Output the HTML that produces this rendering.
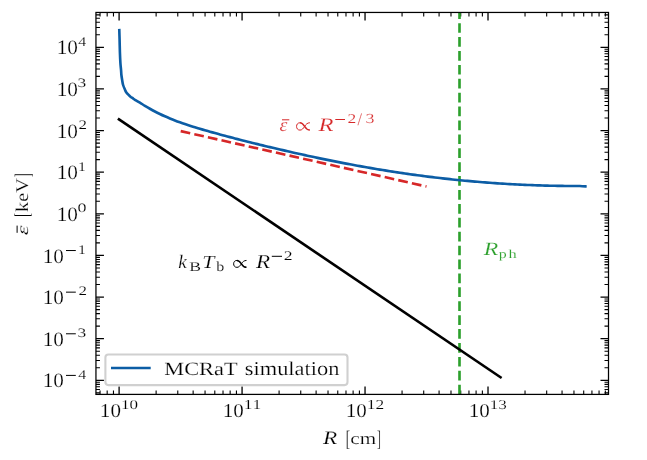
<!DOCTYPE html>
<html><head><meta charset="utf-8"><title>Mean photon energy vs radius</title><style>
html,body{margin:0;padding:0;background:#fff;overflow:hidden;}
svg{display:block;}
text{font-family:"Liberation Serif",serif;font-size:20.0px;font-kerning:none;text-rendering:geometricPrecision;stroke:#fff;stroke-width:0.2px;}
.t{will-change:transform;}
</style></head><body>
<svg class="t" width="647" height="460" viewBox="0 0 647 460">
<rect width="647" height="460" fill="#fff"/>
<g stroke="#000" fill="none">
<path d="M95.95 392.83h4.0M608.50 392.83h-4.0" stroke-width="1.1"/><path d="M95.95 389.53h4.0M608.50 389.53h-4.0" stroke-width="1.1"/><path d="M95.95 386.75h4.0M608.50 386.75h-4.0" stroke-width="1.1"/><path d="M95.95 384.33h4.0M608.50 384.33h-4.0" stroke-width="1.1"/><path d="M95.95 382.20h4.0M608.50 382.20h-4.0" stroke-width="1.1"/><path d="M95.95 380.30h8.0M608.50 380.30h-8.0" stroke-width="1.3"/><path d="M95.95 367.77h4.0M608.50 367.77h-4.0" stroke-width="1.1"/><path d="M95.95 360.44h4.0M608.50 360.44h-4.0" stroke-width="1.1"/><path d="M95.95 355.24h4.0M608.50 355.24h-4.0" stroke-width="1.1"/><path d="M95.95 351.21h4.0M608.50 351.21h-4.0" stroke-width="1.1"/><path d="M95.95 347.91h4.0M608.50 347.91h-4.0" stroke-width="1.1"/><path d="M95.95 345.12h4.0M608.50 345.12h-4.0" stroke-width="1.1"/><path d="M95.95 342.71h4.0M608.50 342.71h-4.0" stroke-width="1.1"/><path d="M95.95 340.58h4.0M608.50 340.58h-4.0" stroke-width="1.1"/><path d="M95.95 338.68h8.0M608.50 338.68h-8.0" stroke-width="1.3"/><path d="M95.95 326.14h4.0M608.50 326.14h-4.0" stroke-width="1.1"/><path d="M95.95 318.81h4.0M608.50 318.81h-4.0" stroke-width="1.1"/><path d="M95.95 313.61h4.0M608.50 313.61h-4.0" stroke-width="1.1"/><path d="M95.95 309.58h4.0M608.50 309.58h-4.0" stroke-width="1.1"/><path d="M95.95 306.28h4.0M608.50 306.28h-4.0" stroke-width="1.1"/><path d="M95.95 303.50h4.0M608.50 303.50h-4.0" stroke-width="1.1"/><path d="M95.95 301.08h4.0M608.50 301.08h-4.0" stroke-width="1.1"/><path d="M95.95 298.95h4.0M608.50 298.95h-4.0" stroke-width="1.1"/><path d="M95.95 297.05h8.0M608.50 297.05h-8.0" stroke-width="1.3"/><path d="M95.95 284.52h4.0M608.50 284.52h-4.0" stroke-width="1.1"/><path d="M95.95 277.19h4.0M608.50 277.19h-4.0" stroke-width="1.1"/><path d="M95.95 271.99h4.0M608.50 271.99h-4.0" stroke-width="1.1"/><path d="M95.95 267.96h4.0M608.50 267.96h-4.0" stroke-width="1.1"/><path d="M95.95 264.66h4.0M608.50 264.66h-4.0" stroke-width="1.1"/><path d="M95.95 261.87h4.0M608.50 261.87h-4.0" stroke-width="1.1"/><path d="M95.95 259.46h4.0M608.50 259.46h-4.0" stroke-width="1.1"/><path d="M95.95 257.33h4.0M608.50 257.33h-4.0" stroke-width="1.1"/><path d="M95.95 255.43h8.0M608.50 255.43h-8.0" stroke-width="1.3"/><path d="M95.95 242.89h4.0M608.50 242.89h-4.0" stroke-width="1.1"/><path d="M95.95 235.56h4.0M608.50 235.56h-4.0" stroke-width="1.1"/><path d="M95.95 230.36h4.0M608.50 230.36h-4.0" stroke-width="1.1"/><path d="M95.95 226.33h4.0M608.50 226.33h-4.0" stroke-width="1.1"/><path d="M95.95 223.03h4.0M608.50 223.03h-4.0" stroke-width="1.1"/><path d="M95.95 220.25h4.0M608.50 220.25h-4.0" stroke-width="1.1"/><path d="M95.95 217.83h4.0M608.50 217.83h-4.0" stroke-width="1.1"/><path d="M95.95 215.70h4.0M608.50 215.70h-4.0" stroke-width="1.1"/><path d="M95.95 213.80h8.0M608.50 213.80h-8.0" stroke-width="1.3"/><path d="M95.95 201.27h4.0M608.50 201.27h-4.0" stroke-width="1.1"/><path d="M95.95 193.94h4.0M608.50 193.94h-4.0" stroke-width="1.1"/><path d="M95.95 188.74h4.0M608.50 188.74h-4.0" stroke-width="1.1"/><path d="M95.95 184.71h4.0M608.50 184.71h-4.0" stroke-width="1.1"/><path d="M95.95 181.41h4.0M608.50 181.41h-4.0" stroke-width="1.1"/><path d="M95.95 178.62h4.0M608.50 178.62h-4.0" stroke-width="1.1"/><path d="M95.95 176.21h4.0M608.50 176.21h-4.0" stroke-width="1.1"/><path d="M95.95 174.08h4.0M608.50 174.08h-4.0" stroke-width="1.1"/><path d="M95.95 172.18h8.0M608.50 172.18h-8.0" stroke-width="1.3"/><path d="M95.95 159.64h4.0M608.50 159.64h-4.0" stroke-width="1.1"/><path d="M95.95 152.31h4.0M608.50 152.31h-4.0" stroke-width="1.1"/><path d="M95.95 147.11h4.0M608.50 147.11h-4.0" stroke-width="1.1"/><path d="M95.95 143.08h4.0M608.50 143.08h-4.0" stroke-width="1.1"/><path d="M95.95 139.78h4.0M608.50 139.78h-4.0" stroke-width="1.1"/><path d="M95.95 137.00h4.0M608.50 137.00h-4.0" stroke-width="1.1"/><path d="M95.95 134.58h4.0M608.50 134.58h-4.0" stroke-width="1.1"/><path d="M95.95 132.45h4.0M608.50 132.45h-4.0" stroke-width="1.1"/><path d="M95.95 130.55h8.0M608.50 130.55h-8.0" stroke-width="1.3"/><path d="M95.95 118.02h4.0M608.50 118.02h-4.0" stroke-width="1.1"/><path d="M95.95 110.69h4.0M608.50 110.69h-4.0" stroke-width="1.1"/><path d="M95.95 105.49h4.0M608.50 105.49h-4.0" stroke-width="1.1"/><path d="M95.95 101.46h4.0M608.50 101.46h-4.0" stroke-width="1.1"/><path d="M95.95 98.16h4.0M608.50 98.16h-4.0" stroke-width="1.1"/><path d="M95.95 95.37h4.0M608.50 95.37h-4.0" stroke-width="1.1"/><path d="M95.95 92.96h4.0M608.50 92.96h-4.0" stroke-width="1.1"/><path d="M95.95 90.83h4.0M608.50 90.83h-4.0" stroke-width="1.1"/><path d="M95.95 88.92h8.0M608.50 88.92h-8.0" stroke-width="1.3"/><path d="M95.95 76.39h4.0M608.50 76.39h-4.0" stroke-width="1.1"/><path d="M95.95 69.06h4.0M608.50 69.06h-4.0" stroke-width="1.1"/><path d="M95.95 63.86h4.0M608.50 63.86h-4.0" stroke-width="1.1"/><path d="M95.95 59.83h4.0M608.50 59.83h-4.0" stroke-width="1.1"/><path d="M95.95 56.53h4.0M608.50 56.53h-4.0" stroke-width="1.1"/><path d="M95.95 53.75h4.0M608.50 53.75h-4.0" stroke-width="1.1"/><path d="M95.95 51.33h4.0M608.50 51.33h-4.0" stroke-width="1.1"/><path d="M95.95 49.20h4.0M608.50 49.20h-4.0" stroke-width="1.1"/><path d="M95.95 47.30h8.0M608.50 47.30h-8.0" stroke-width="1.3"/><path d="M95.95 34.77h4.0M608.50 34.77h-4.0" stroke-width="1.1"/><path d="M95.95 27.44h4.0M608.50 27.44h-4.0" stroke-width="1.1"/><path d="M95.95 22.24h4.0M608.50 22.24h-4.0" stroke-width="1.1"/><path d="M95.95 18.21h4.0M608.50 18.21h-4.0" stroke-width="1.1"/><path d="M95.95 14.91h4.0M608.50 14.91h-4.0" stroke-width="1.1"/><path d="M100.05 394.40v-4.0M100.05 12.45v4.0" stroke-width="1.1"/><path d="M107.18 394.40v-4.0M107.18 12.45v4.0" stroke-width="1.1"/><path d="M113.47 394.40v-4.0M113.47 12.45v4.0" stroke-width="1.1"/><path d="M119.10 394.40v-8.0M119.10 12.45v8.0" stroke-width="1.3"/><path d="M156.12 394.40v-4.0M156.12 12.45v4.0" stroke-width="1.1"/><path d="M177.77 394.40v-4.0M177.77 12.45v4.0" stroke-width="1.1"/><path d="M193.14 394.40v-4.0M193.14 12.45v4.0" stroke-width="1.1"/><path d="M205.05 394.40v-4.0M205.05 12.45v4.0" stroke-width="1.1"/><path d="M214.79 394.40v-4.0M214.79 12.45v4.0" stroke-width="1.1"/><path d="M223.02 394.40v-4.0M223.02 12.45v4.0" stroke-width="1.1"/><path d="M230.15 394.40v-4.0M230.15 12.45v4.0" stroke-width="1.1"/><path d="M236.44 394.40v-4.0M236.44 12.45v4.0" stroke-width="1.1"/><path d="M242.07 394.40v-8.0M242.07 12.45v8.0" stroke-width="1.3"/><path d="M279.09 394.40v-4.0M279.09 12.45v4.0" stroke-width="1.1"/><path d="M300.74 394.40v-4.0M300.74 12.45v4.0" stroke-width="1.1"/><path d="M316.11 394.40v-4.0M316.11 12.45v4.0" stroke-width="1.1"/><path d="M328.02 394.40v-4.0M328.02 12.45v4.0" stroke-width="1.1"/><path d="M337.76 394.40v-4.0M337.76 12.45v4.0" stroke-width="1.1"/><path d="M345.99 394.40v-4.0M345.99 12.45v4.0" stroke-width="1.1"/><path d="M353.12 394.40v-4.0M353.12 12.45v4.0" stroke-width="1.1"/><path d="M359.41 394.40v-4.0M359.41 12.45v4.0" stroke-width="1.1"/><path d="M365.04 394.40v-8.0M365.04 12.45v8.0" stroke-width="1.3"/><path d="M402.06 394.40v-4.0M402.06 12.45v4.0" stroke-width="1.1"/><path d="M423.71 394.40v-4.0M423.71 12.45v4.0" stroke-width="1.1"/><path d="M439.08 394.40v-4.0M439.08 12.45v4.0" stroke-width="1.1"/><path d="M450.99 394.40v-4.0M450.99 12.45v4.0" stroke-width="1.1"/><path d="M460.73 394.40v-4.0M460.73 12.45v4.0" stroke-width="1.1"/><path d="M468.96 394.40v-4.0M468.96 12.45v4.0" stroke-width="1.1"/><path d="M476.09 394.40v-4.0M476.09 12.45v4.0" stroke-width="1.1"/><path d="M482.38 394.40v-4.0M482.38 12.45v4.0" stroke-width="1.1"/><path d="M488.01 394.40v-8.0M488.01 12.45v8.0" stroke-width="1.3"/><path d="M525.03 394.40v-4.0M525.03 12.45v4.0" stroke-width="1.1"/><path d="M546.68 394.40v-4.0M546.68 12.45v4.0" stroke-width="1.1"/><path d="M562.05 394.40v-4.0M562.05 12.45v4.0" stroke-width="1.1"/><path d="M573.96 394.40v-4.0M573.96 12.45v4.0" stroke-width="1.1"/><path d="M583.70 394.40v-4.0M583.70 12.45v4.0" stroke-width="1.1"/><path d="M591.93 394.40v-4.0M591.93 12.45v4.0" stroke-width="1.1"/><path d="M599.06 394.40v-4.0M599.06 12.45v4.0" stroke-width="1.1"/><path d="M605.35 394.40v-4.0M605.35 12.45v4.0" stroke-width="1.1"/>
</g>
<g fill="none" stroke-linecap="butt" stroke-linejoin="round">
<path d="M459.5 394.4V12.45" stroke="#2ca02c" stroke-width="2.63" stroke-dasharray="9.707 4.198"/>
<path d="M117.9 118.7L501.6 378.0" stroke="#000" stroke-width="2.63"/>
<path d="M180.7 131.1L426.5 186.5" stroke="#d62728" stroke-width="2.63" stroke-dasharray="9.73 4.21"/>
<path d="M119.26 28.90C119.32 30.75 119.49 36.15 119.60 40.00C119.71 43.85 119.77 48.17 119.90 52.00C120.03 55.83 120.21 60.00 120.40 63.00C120.59 66.00 120.88 68.00 121.05 70.00C121.22 72.00 121.22 73.33 121.40 75.00C121.58 76.67 121.87 78.33 122.15 80.00C122.43 81.67 122.61 83.33 123.10 85.00C123.59 86.67 124.58 88.80 125.10 90.00C125.62 91.20 125.66 91.42 126.20 92.20C126.74 92.98 127.63 93.95 128.35 94.70C129.07 95.45 129.78 96.12 130.50 96.70C131.22 97.28 131.97 97.69 132.70 98.20C133.43 98.71 133.70 99.01 134.90 99.76C136.10 100.51 138.23 101.70 139.90 102.70C141.57 103.71 143.23 104.78 144.90 105.79C146.57 106.79 148.23 107.79 149.90 108.74C151.57 109.69 153.23 110.61 154.90 111.49C156.57 112.37 158.23 113.20 159.90 114.01C161.57 114.82 163.23 115.58 164.90 116.32C166.57 117.06 168.23 117.77 169.90 118.46C171.57 119.14 173.23 119.80 174.90 120.43C176.57 121.07 178.23 121.68 179.90 122.28C181.57 122.88 183.23 123.46 184.90 124.02C186.57 124.59 188.23 125.14 189.90 125.68C191.57 126.22 193.23 126.74 194.90 127.26C196.57 127.78 198.23 128.28 199.90 128.78C201.57 129.28 203.23 129.77 204.90 130.26C206.57 130.74 208.23 131.22 209.90 131.69C211.57 132.16 213.23 132.62 214.90 133.09C216.57 133.55 218.23 134.00 219.90 134.45C221.57 134.91 223.23 135.35 224.90 135.80C226.57 136.24 228.23 136.68 229.90 137.12C231.57 137.56 233.23 137.99 234.90 138.42C236.57 138.86 238.23 139.28 239.90 139.71C241.57 140.14 243.23 140.56 244.90 140.98C246.57 141.40 248.23 141.82 249.90 142.23C251.57 142.65 253.23 143.06 254.90 143.47C256.57 143.89 258.23 144.29 259.90 144.70C261.57 145.11 263.23 145.51 264.90 145.91C266.57 146.32 268.23 146.72 269.90 147.11C271.57 147.51 273.23 147.91 274.90 148.30C276.57 148.69 278.23 149.09 279.90 149.47C281.57 149.86 283.23 150.25 284.90 150.63C286.57 151.02 288.23 151.40 289.90 151.78C291.57 152.16 293.23 152.54 294.90 152.91C296.57 153.28 298.23 153.66 299.90 154.03C301.57 154.40 303.23 154.76 304.90 155.13C306.57 155.49 308.23 155.85 309.90 156.21C311.57 156.57 313.23 156.93 314.90 157.28C316.57 157.64 318.23 157.99 319.90 158.34C321.57 158.69 323.23 159.03 324.90 159.38C326.57 159.72 328.23 160.06 329.90 160.40C331.57 160.73 333.23 161.07 334.90 161.40C336.57 161.73 338.23 162.06 339.90 162.39C341.57 162.71 343.23 163.03 344.90 163.35C346.57 163.67 348.23 163.99 349.90 164.30C351.57 164.62 353.23 164.93 354.90 165.24C356.57 165.54 358.23 165.85 359.90 166.15C361.57 166.45 363.23 166.75 364.90 167.04C366.57 167.34 368.23 167.63 369.90 167.92C371.57 168.21 373.23 168.49 374.90 168.77C376.57 169.05 378.23 169.33 379.90 169.61C381.57 169.88 383.23 170.16 384.90 170.42C386.57 170.69 388.23 170.96 389.90 171.22C391.57 171.48 393.23 171.74 394.90 172.00C396.57 172.25 398.23 172.50 399.90 172.75C401.57 173.00 403.23 173.25 404.90 173.49C406.57 173.73 408.23 173.97 409.90 174.20C411.57 174.44 413.23 174.67 414.90 174.90C416.57 175.12 418.23 175.35 419.90 175.57C421.57 175.79 423.23 176.01 424.90 176.22C426.57 176.44 428.23 176.65 429.90 176.85C431.57 177.06 433.23 177.26 434.90 177.46C436.57 177.66 438.23 177.86 439.90 178.05C441.57 178.25 443.23 178.44 444.90 178.62C446.57 178.81 448.23 178.99 449.90 179.17C451.57 179.35 453.23 179.52 454.90 179.70C456.57 179.87 458.23 180.04 459.90 180.20C461.57 180.37 463.23 180.53 464.90 180.69C466.57 180.84 468.23 181.00 469.90 181.15C471.57 181.30 473.23 181.45 474.90 181.59C476.57 181.73 478.23 181.87 479.90 182.01C481.57 182.15 483.23 182.28 484.90 182.41C486.57 182.54 488.23 182.66 489.90 182.79C491.57 182.91 493.23 183.03 494.90 183.14C496.57 183.26 498.23 183.37 499.90 183.48C501.57 183.59 503.23 183.69 504.90 183.80C506.57 183.90 508.23 184.00 509.90 184.09C511.57 184.18 513.23 184.28 514.90 184.36C516.57 184.45 518.23 184.53 519.90 184.62C521.57 184.70 523.23 184.77 524.90 184.85C526.57 184.92 528.23 184.99 529.90 185.06C531.57 185.12 533.23 185.19 534.90 185.25C536.57 185.31 538.23 185.36 539.90 185.42C541.57 185.47 543.23 185.52 544.90 185.57C546.57 185.61 548.23 185.66 549.90 185.70C551.57 185.73 553.23 185.77 554.90 185.80C556.57 185.84 558.23 185.87 559.90 185.89C561.57 185.92 563.23 185.94 564.90 185.96C566.57 185.98 568.23 185.99 569.90 186.01C571.57 186.02 573.23 186.03 574.90 186.03C576.57 186.04 577.93 185.96 579.90 186.04C581.87 186.12 585.57 186.42 586.70 186.50" stroke="#0C5DA5" stroke-width="2.63"/>
</g>
<rect x="95.95" y="12.45" width="512.55" height="381.95" stroke-width="1.25" fill="none" stroke="#000"/>
<rect x="105.4" y="354.5" width="242.1" height="30.6" rx="3" fill="#fff" fill-opacity="0.8" stroke="#d0d0d0" stroke-width="2.1"/>
<path d="M111 368H150.7" stroke="#0C5DA5" stroke-width="2.63"/>
<text transform="matrix(1.0583 0 0 1.0225 42.64 387.45)">10</text>
<rect x="66.00" y="374.90" width="9.80" height="1.0" fill="#000"/>
<text transform="matrix(0.7960 0 0 0.6571 78.29 378.65)" stroke="none">4</text>
<text transform="matrix(1.0583 0 0 1.0225 42.64 345.83)">10</text>
<rect x="66.00" y="333.28" width="9.80" height="1.0" fill="#000"/>
<text transform="matrix(0.8715 0 0 0.6437 77.57 336.90)" stroke="none">3</text>
<text transform="matrix(1.0583 0 0 1.0225 42.64 304.20)">10</text>
<rect x="66.00" y="291.65" width="9.80" height="1.0" fill="#000"/>
<text transform="matrix(0.8481 0 0 0.6532 78.45 295.40)" stroke="none">2</text>
<text transform="matrix(1.0583 0 0 1.0225 42.64 262.58)">10</text>
<rect x="66.00" y="250.03" width="9.80" height="1.0" fill="#000"/>
<text transform="matrix(0.7953 0 0 0.6551 77.90 253.78)" stroke="none">1</text>
<text transform="matrix(1.0640 0 0 1.0225 56.73 220.95)">10</text>
<text transform="matrix(0.8966 0 0 0.6409 77.42 212.02)" stroke="none">0</text>
<text transform="matrix(1.0640 0 0 1.0225 56.73 179.33)">10</text>
<text transform="matrix(0.7953 0 0 0.6551 77.90 170.53)" stroke="none">1</text>
<text transform="matrix(1.0640 0 0 1.0225 56.73 137.70)">10</text>
<text transform="matrix(0.8481 0 0 0.6532 78.45 128.90)" stroke="none">2</text>
<text transform="matrix(1.0640 0 0 1.0225 56.73 96.08)">10</text>
<text transform="matrix(0.8715 0 0 0.6437 77.57 87.15)" stroke="none">3</text>
<text transform="matrix(1.0640 0 0 1.0225 56.73 54.45)">10</text>
<text transform="matrix(0.7960 0 0 0.6571 78.29 45.65)" stroke="none">4</text>
<text transform="matrix(1.0526 0 0 0.9855 99.85 416.91)">10</text>
<text transform="matrix(0.8524 0 0 0.6669 120.90 408.87)" stroke="none">10</text>
<text transform="matrix(1.0526 0 0 0.9855 222.82 416.91)">10</text>
<text transform="matrix(0.8744 0 0 0.6817 243.83 409.00)" stroke="none">11</text>
<text transform="matrix(1.0526 0 0 0.9855 345.79 416.91)">10</text>
<text transform="matrix(0.8694 0 0 0.6796 366.81 409.00)" stroke="none">12</text>
<text transform="matrix(1.0526 0 0 0.9855 468.76 416.91)">10</text>
<text transform="matrix(0.8533 0 0 0.6698 489.81 408.87)" stroke="none">13</text>
<text transform="matrix(1.1591 0 0 0.9469 323.12 444.00)" font-style="italic">R</text>
<text transform="matrix(0.6512 0 0 1.1116 345.63 445.73)" stroke="#000" stroke-width="0.25">[</text>
<text transform="matrix(1.0574 0 0 0.8421 350.29 444.04)">cm</text>
<text transform="matrix(0.5839 0 0 1.1116 376.98 445.73)" stroke="#000" stroke-width="0.25">]</text>
<g transform="rotate(-90)"><text transform="matrix(0.6512 0 0 1.0693 -216.97 29.04)" stroke="#000" stroke-width="0.25">[</text><text transform="matrix(1.0118 0 0 0.8956 -211.89 27.83)">keV</text><text transform="matrix(0.5839 0 0 1.1176 -177.22 29.51)" stroke="#000" stroke-width="0.25">]</text><text transform="matrix(1.2245 0 0 0.8005 -235.23 27.94)" font-style="italic">ε</text><rect x="-232.80" y="16.60" width="7.20" height="1.0" fill="#000"/></g>
<text transform="matrix(0.9957 0 0 0.9356 279.57 130.72)" font-style="italic" fill="#d62728">ε</text>
<rect x="282.00" y="119.30" width="7.30" height="1.0" fill="#d62728"/>
<path d="M309.90 122.78C307.40 122.78 305.90 124.25 304.60 126.40C303.30 128.45 302.00 130.12 300.00 130.12C297.60 130.12 296.55 128.26 296.55 126.40C296.55 124.54 297.60 122.78 300.00 122.78" fill="none" stroke="#d62728" stroke-width="1.0"/><path d="M300.00 122.78C302.00 122.78 303.30 124.35 304.60 126.40C305.90 128.55 307.40 130.12 309.90 130.12" fill="none" stroke="#d62728" stroke-width="1.50"/>
<text transform="matrix(1.2258 0 0 0.9621 318.43 130.60)" font-style="italic" fill="#d62728">R</text>
<rect x="335.30" y="119.00" width="9.70" height="1.0" fill="#d62728"/>
<text transform="matrix(0.8731 0 0 0.6645 347.53 122.70)" fill="#d62728" stroke="none">2</text>
<text transform="matrix(0.8278 0 0 0.9044 357.60 125.32)" fill="#d62728" stroke="none">/</text>
<text transform="matrix(0.8957 0 0 0.6921 365.54 123.06)" fill="#d62728" stroke="none">3</text>
<text transform="matrix(0.9542 0 0 0.9512 178.35 268.30)" font-style="italic">k</text>
<text transform="matrix(0.8823 0 0 0.6614 189.29 270.86)" stroke="none">B</text>
<text transform="matrix(1.0913 0 0 0.9240 202.37 267.80)" font-style="italic">T</text>
<text transform="matrix(0.8010 0 0 0.6822 216.30 270.77)" stroke="none">b</text>
<path d="M246.51 260.44C244.10 260.44 242.65 261.82 241.40 263.85C240.14 265.79 238.89 267.36 236.96 267.36C234.64 267.36 233.63 265.61 233.63 263.85C233.63 262.10 234.64 260.44 236.96 260.44" fill="none" stroke="#000" stroke-width="1.0"/><path d="M236.96 260.44C238.89 260.44 240.14 261.92 241.40 263.85C242.65 265.88 244.10 267.36 246.51 267.36" fill="none" stroke="#000" stroke-width="1.50"/>
<text transform="matrix(1.1507 0 0 0.9851 256.12 268.00)" font-style="italic">R</text>
<rect x="271.80" y="255.80" width="10.20" height="1.0" fill="#000"/>
<text transform="matrix(0.8856 0 0 0.6570 283.82 259.90)" stroke="none">2</text>
<text transform="matrix(1.1841 0 0 0.9392 483.83 254.50)" font-style="italic" fill="#2ca02c">R</text>
<text transform="matrix(0.7981 0 0 0.6286 498.64 257.72)" fill="#2ca02c" stroke="none">p</text>
<text transform="matrix(0.8175 0 0 0.6197 508.54 257.90)" fill="#2ca02c" stroke="none">h</text>
<text transform="matrix(1.1184 0 0 0.9377 164.26 374.72)">MCRaT</text>
<text transform="matrix(1.1198 0 0 0.9807 244.78 374.91)">simulation</text>
</svg>
</body></html>
